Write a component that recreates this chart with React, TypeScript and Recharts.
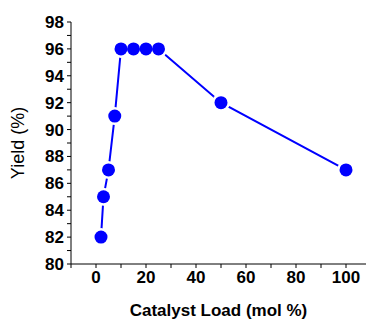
import { Line, LineChart, XAxis, YAxis, Label } from "recharts"

const loads = [2, 3, 5, 7.5, 10, 15, 20, 25, 50, 100]
const yields = [82, 85, 87, 91, 96, 96, 96, 96, 92, 87]

const xTicks = [-10, 0, 10, 20, 30, 40, 50, 60, 70, 80, 90, 100]
const xLabels = [0, 20, 40, 60, 80, 100]
const yTicks = [80, 81, 82, 83, 84, 85, 86, 87, 88, 89, 90, 91, 92, 93, 94, 95, 96, 97, 98]
const yLabels = [80, 82, 84, 86, 88, 90, 92, 94, 96, 98]

const data = loads.map((load, i) => ({ load, yield: yields[i] }))

const BLUE = "#0000ff"
const FONT = "'Liberation Sans', Arial, sans-serif"

function XTick(props: any) {
  const { x, y, payload } = props
  if (!xLabels.includes(payload.value)) return null
  return (
    <text x={x} y={y + 13} textAnchor="middle" fontFamily={FONT} fontWeight="bold" fontSize={17} fill="#000">
      {payload.value}
    </text>
  )
}

function YTick(props: any) {
  const { x, y, payload } = props
  if (!yLabels.includes(payload.value)) return null
  return (
    <text x={x} y={y + 6} textAnchor="end" fontFamily={FONT} fontWeight="bold" fontSize={17} fill="#000">
      {payload.value}
    </text>
  )
}

export default function App() {
  return (
    <div style={{ position: "absolute", left: 0, top: 0, width: 368, height: 320, background: "#fff" }}>
      <LineChart width={368} height={320} data={data} margin={{ top: 22, right: 2, bottom: 0, left: 0 }}>
        <XAxis
          type="number"
          dataKey="load"
          domain={[-10, 108]}
          ticks={xTicks}
          interval={0}
          allowDataOverflow
          stroke="#000"
          tickSize={4}
          tickMargin={2}
          height={56}
          tick={<XTick />}
        >
          <Label
            value="Catalyst Load (mol %)"
            position="insideBottom"
            offset={4}
            style={{ fontFamily: FONT, fontWeight: "bold", fontSize: 17, fill: "#000" }}
          />
        </XAxis>
        <YAxis
          type="number"
          domain={[80, 98]}
          ticks={yTicks}
          interval={0}
          stroke="#000"
          tickSize={4}
          tickMargin={3}
          width={71}
          tick={<YTick />}
        >
          <Label
            value="Yield (%)"
            angle={-90}
            position="insideLeft"
            offset={0}
            dx={18}
            style={{ fontFamily: FONT, fontSize: 18, fill: "#000", textAnchor: "middle" }}
          />
        </YAxis>
        <Line
          dataKey="yield"
          stroke={BLUE}
          strokeWidth={2}
          dot={{ r: 9, fill: "#fff", stroke: "none" }}
          isAnimationActive={false}
        />
        <Line
          dataKey="yield"
          stroke="none"
          dot={{ r: 6.5, fill: BLUE, stroke: "none" }}
          activeDot={false}
          isAnimationActive={false}
        />
      </LineChart>
    </div>
  )
}
